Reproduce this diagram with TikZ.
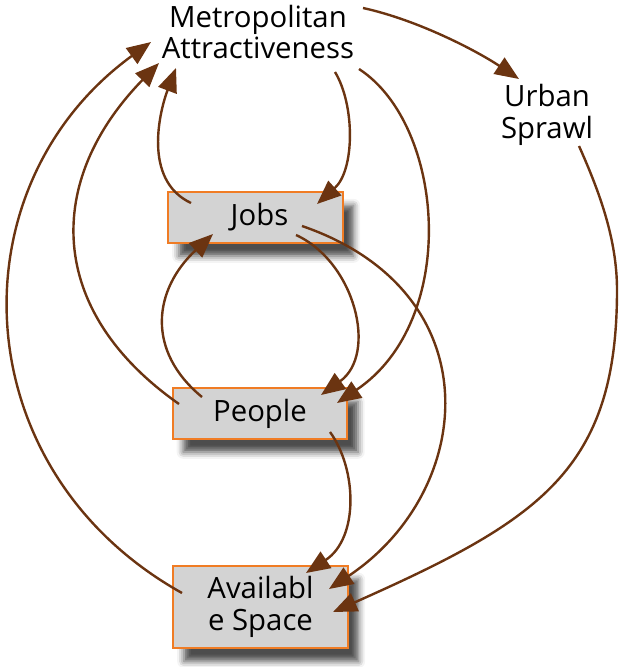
\documentclass[tikz,border=0pt]{standalone}
\usepackage{fontspec}
\setmainfont{Open Sans}
\usetikzlibrary{arrows.meta,calc,shadows.blur}

\definecolor{linkbrown}{RGB}{107,52,17}
\definecolor{boxorange}{RGB}{240,124,36}
\definecolor{boxgray}{RGB}{211,211,211}

\tikzset{every picture/.style={line width=0.75pt}}
\tikzset{
  varfont/.style={font=\fontsize{22}{23.5}\selectfont},
  vartext/.style={varfont,align=center,inner sep=0pt},
  varbox/.style={varfont,align=center,draw=boxorange,line width=1.3pt,fill=boxgray,
    minimum width=131pt,minimum height=38pt,inner sep=0pt,
    blur shadow={shadow xshift=8pt,shadow yshift=-10pt,shadow blur radius=5pt,shadow opacity=70}},
  link/.style={draw=linkbrown,line width=1.8pt,-{Triangle[length=18pt,width=14.5pt]}}
}

\begin{document}
\begin{tikzpicture}[x=0.75pt,y=0.75pt,yscale=-1,xscale=1]
\useasboundingbox (0,0) rectangle (620,667);

% Text Node
\draw (258,32) node [vartext] (ma) {Metropolitan\\Attractiveness};
% Text Node
\draw (547,115) node [vartext] (us) {Urban\\Sprawl};
% Box Node
\draw (255.5,217.5) node [varbox] (jobs) {\hspace*{6pt}Jobs};
% Box Node
\draw (260,413.5) node [varbox] (people) {People};
% Box Node
\draw (260.5,607) node [varbox,minimum height=61.5pt] (avail) {Availabl\\e Space};

%Curve Lines
\draw [link] ($(ma)+(105,-24)$) .. controls (418,20) and (477,51) .. ($(us)+(-28,-36)$) ;
%Curve Lines
\draw [link] ($(ma)+(77,40)$) .. controls (355,105) and (355,170) .. ($(jobs)+(61.5,-13.5)$) ;
%Curve Lines
\draw [link] ($(ma)+(101,37)$) .. controls (445,125) and (460,320) .. ($(people)+(77,-10.5)$) ;
%Curve Lines
\draw [link] ($(jobs)+(-64.5,-14.5)$) .. controls (142,180) and (160,110) .. ($(ma)+(-82,36)$) ;
%Curve Lines
\draw [link] ($(people)+(-81,-9.5)$) .. controls (45,310) and (45,180) .. ($(ma)+(-99,31)$) ;
%Curve Lines
\draw [link] ($(avail)+(-78.5,-14)$) .. controls (-38,470) and (-47,186) .. ($(ma)+(-107,10)$) ;
%Curve Lines
\draw [link] ($(people)+(-58,-16.5)$) .. controls (146,351) and (153,290) .. ($(jobs)+(-42.5,16.5)$) ;
%Curve Lines
\draw [link] ($(jobs)+(40.5,17.5)$) .. controls (355,262) and (378,354) .. ($(people)+(61,-18.5)$) ;
%Curve Lines
\draw [link] ($(jobs)+(46.5,8.5)$) .. controls (494,292) and (476,491) .. ($(avail)+(68.5,-18)$) ;
%Curve Lines
\draw [link] ($(people)+(70,18.5)$) .. controls (357,469) and (359,538) .. ($(avail)+(45.5,-34)$) ;
%Curve Lines
\draw [link] ($(us)+(32,31)$) .. controls (600,193) and (617,240) .. (617,290) .. controls (617,470) and (540,520) .. ($(avail)+(72.5,5)$) ;

\end{tikzpicture}
\end{document}
